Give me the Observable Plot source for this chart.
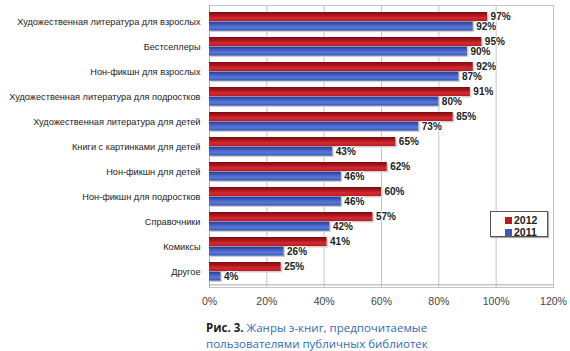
<!DOCTYPE html>
<html>
<head>
<meta charset="utf-8">
<script src="https://cdn.jsdelivr.net/npm/d3@7"></script>
<script src="https://cdn.jsdelivr.net/npm/@observablehq/plot@0.6"></script>
<style>
  html, body { margin: 0; padding: 0; background: #fff; }
  #wrap { position: relative; width: 570px; height: 351px; overflow: hidden; }
  #legend { position: absolute; left: 490px; top: 211px; width: 56px; height: 24px;
    border: 1.5px solid #555; background: #fff; box-shadow: 1px 1px 1px #aaa;
    font: bold 10.5px "Liberation Sans", Arial, sans-serif; color: #222; }
  #legend .it { position: absolute; left: 14px; height: 10px; line-height: 10px; }
  #legend .sw { display: inline-block; width: 7px; height: 7px; margin-right: 2px; vertical-align: 0px; }
  #caption { position: absolute; left: 206px; top: 320px; font: 11.5px "Open Sans", "Noto Sans", sans-serif; line-height: 16px; color: #2f6db5; }
  #caption b { color: #222; }
</style>
</head>
<body>
<div id="wrap">
  <div id="chart"></div>
  <div id="legend"></div>
  <div id="caption"></div>
</div>
<script>
const categories = [
  "Художественная литература для взрослых",
  "Бестселлеры",
  "Нон-фикшн для взрослых",
  "Художественная литература для подростков",
  "Художественная литература для детей",
  "Книги с картинками для детей",
  "Нон-фикшн для детей",
  "Нон-фикшн для подростков",
  "Справочники",
  "Комиксы",
  "Другое"
];
const values2012 = [97, 95, 92, 91, 85, 65, 62, 60, 57, 41, 25];
const values2011 = [92, 90, 87, 80, 73, 43, 46, 46, 42, 26, 4];
const xTicks = [0, 20, 40, 60, 80, 100, 120];
const seriesNames = ["2012", "2011"];
const captionLead = "Рис. 3.";
const captionText = "Жанры э-книг, предпочитаемые пользователями публичных библиотек";

const d2012 = categories.map((c, i) => ({category: c, value: values2012[i]}));
const d2011 = categories.map((c, i) => ({category: c, value: values2011[i]}));

const labelFont = "'Liberation Sans', Arial, sans-serif";

const chart = Plot.plot({
  width: 570,
  height: 310,
  marginLeft: 209,
  marginRight: 17,
  marginTop: 5,
  marginBottom: 23,
  style: {fontFamily: labelFont, fontSize: "9.2px", color: "#222", background: "transparent"},
  x: {domain: [0, 120], ticks: xTicks, tickFormat: d => d + "%", tickSize: 0, tickPadding: 10, label: null},
  y: {domain: categories, padding: 0, tickSize: 0, tickPadding: 9, label: null},
  marks: [
    Plot.gridX(xTicks, {stroke: "#c4c4c4", strokeOpacity: 1}),
    Plot.frame({stroke: "#c4c4c4"}),
    Plot.ruleX([0], {stroke: "#aaa"}),
    Plot.ruleY([categories[categories.length - 1]], {stroke: "#aaa", dy: 12.8}),
    // shadows
    Plot.barX(d2012, {y: "category", x: "value", insetTop: 3, insetBottom: 13, fill: "#cfcfcf", dx: 1.5, dy: 1.5}),
    Plot.barX(d2011, {y: "category", x: "value", insetTop: 12.6, insetBottom: 3.4, fill: "#cfcfcf", dx: 1.5, dy: 1.5}),
    Plot.barX(d2012, {y: "category", x: "value", insetTop: 3, insetBottom: 13, fill: "url(#gRed)"}),
    Plot.barX(d2011, {y: "category", x: "value", insetTop: 12.6, insetBottom: 3.4, fill: "url(#gBlue)"}),
    Plot.text(d2012, {y: "category", x: "value", text: d => d.value + "%", dx: 3, dy: -5, textAnchor: "start",
      fontWeight: "bold", fontSize: 10, fill: "#222", stroke: "white", strokeWidth: 2, paintOrder: "stroke",
      fontFamily: labelFont}),
    Plot.text(d2011, {y: "category", x: "value", text: d => d.value + "%", dx: 3, dy: 4.6, textAnchor: "start",
      fontWeight: "bold", fontSize: 10, fill: "#222", stroke: "white", strokeWidth: 2, paintOrder: "stroke",
      fontFamily: labelFont})
  ]
});

chart.insertAdjacentHTML("afterbegin", `<defs>
  <linearGradient id="gRed" x1="0" y1="0" x2="0" y2="1">
    <stop offset="0" stop-color="#7e0b10"/>
    <stop offset="0.35" stop-color="#a8151c"/>
    <stop offset="0.65" stop-color="#d42a31"/>
    <stop offset="1" stop-color="#b81c23"/>
  </linearGradient>
  <linearGradient id="gBlue" x1="0" y1="0" x2="0" y2="1">
    <stop offset="0" stop-color="#263a92"/>
    <stop offset="0.45" stop-color="#4a68cc"/>
    <stop offset="0.7" stop-color="#5878d8"/>
    <stop offset="1" stop-color="#3350b0"/>
  </linearGradient>
</defs>`);

// style x axis tick labels
chart.querySelectorAll("[aria-label='x-axis tick label']").forEach(el => {
  el.setAttribute("fill", "#444");
  el.setAttribute("font-size", "10.5");
});

document.getElementById("chart").appendChild(chart);

const swatch = {"2012": "#b81c23", "2011": "#3a56b8"};
const legend = document.getElementById("legend");
seriesNames.forEach((s, i) => {
  const it = document.createElement("div");
  it.className = "it";
  it.style.top = (3 + i * 12) + "px";
  it.innerHTML = `<span class="sw" style="background:${swatch[s]}"></span>${s}`;
  legend.appendChild(it);
});

document.getElementById("caption").innerHTML = `<b>${captionLead}</b> ` +
  captionText.replace("предпочитаемые ", "предпочитаемые<br>");
</script>
</body>
</html>
